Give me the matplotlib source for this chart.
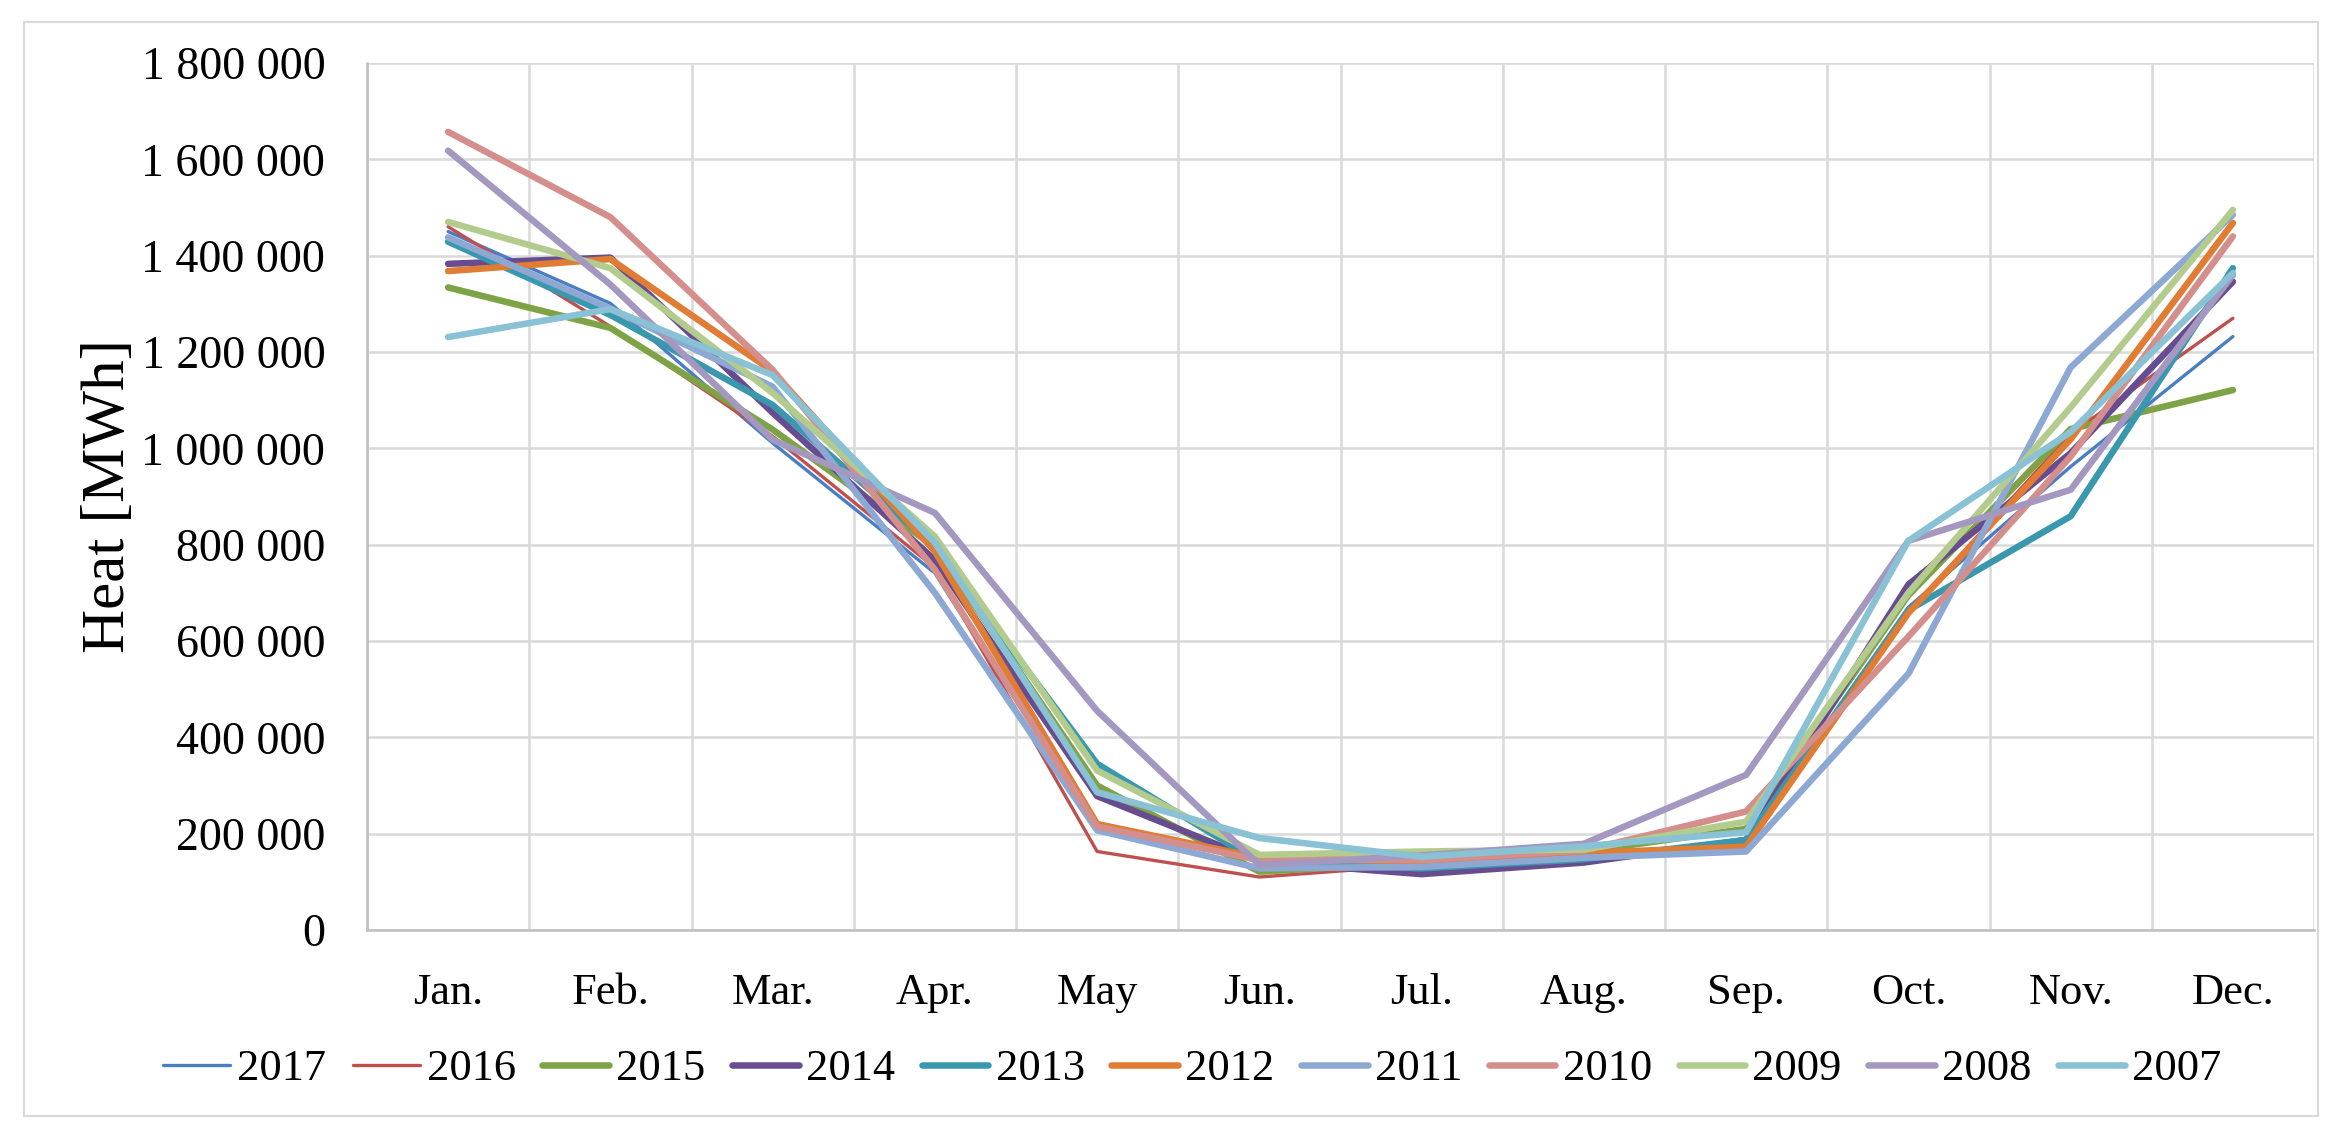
import matplotlib.pyplot as plt
import matplotlib.patches as patches
from matplotlib.ticker import FuncFormatter, MultipleLocator
import numpy as np

plt.rcParams['font.family'] = ['Liberation Serif', 'DejaVu Serif']

# ---- data ----
months = ['Jan.', 'Feb.', 'Mar.', 'Apr.', 'May', 'Jun.', 'Jul.', 'Aug.', 'Sep.', 'Oct.', 'Nov.', 'Dec.']
years = ['2017', '2016', '2015', '2014', '2013', '2012', '2011', '2010', '2009', '2008', '2007']

v2017 = [1450000, 1301000, 1011000, 741000, 210000, 145000, 140000, 150000, 178000, 670000, 962000, 1232000]
v2016 = [1460000, 1253000, 1025000, 752000, 163000, 110000, 135000, 150000, 180000, 660000, 1030000, 1270000]
v2015 = [1334000, 1250000, 1039000, 795000, 300000, 121000, 140000, 163000, 210000, 695000, 1040000, 1121000]
v2014 = [1383000, 1396000, 1074000, 768000, 278000, 142000, 116000, 140000, 187000, 717000, 990000, 1346000]
v2013 = [1429000, 1277000, 1090000, 796000, 345000, 140000, 128000, 147000, 187000, 664000, 859000, 1374000]
v2012 = [1368000, 1393000, 1160000, 786000, 220000, 150000, 143000, 160000, 173000, 658000, 1019000, 1468000]
v2011 = [1438000, 1290000, 1128000, 700000, 207000, 128000, 131000, 150000, 163000, 532000, 1168000, 1485000]
v2010 = [1657000, 1480000, 1163000, 748000, 215000, 145000, 145000, 165000, 246000, 609000, 983000, 1440000]
v2009 = [1470000, 1374000, 1115000, 817000, 331000, 156000, 163000, 167000, 225000, 700000, 1085000, 1495000]
v2008 = [1618000, 1340000, 1018000, 866000, 455000, 135000, 155000, 179000, 322000, 808000, 914000, 1360000]
v2007 = [1231000, 1289000, 1152000, 804000, 286000, 191000, 152000, 174000, 203000, 808000, 1034000, 1364000]

values = [v2017, v2016, v2015, v2014, v2013, v2012, v2011, v2010, v2009, v2008, v2007]
colors = ['#4A7EC4', '#C0504D', '#7EA346', '#684C90', '#3A98AE', '#E07C33',
          '#8DA9D3', '#D48E8C', '#B3CC8E', '#A598C0', '#89C1D5']
widths = [2.4, 2.4, 4.7, 4.7, 4.7, 4.7, 4.7, 4.7, 4.7, 4.7, 4.7]

# ---- figure ----
fig = plt.figure(figsize=(23.38, 11.34), dpi=100)
ax = fig.add_axes([367 / 2338, 1 - 930 / 1134, 1947 / 2338, 867 / 1134])

x = np.arange(len(months))
for lab, vals, col, lw in zip(years, values, colors, widths):
    ax.plot(x, vals, color=col, linewidth=lw, label=lab,
            solid_capstyle='round', solid_joinstyle='round')

ax.set_xlim(-0.5, 11.5)
ax.set_ylim(0, 1800000)
ax.set_xticks(x)
ax.set_xticklabels(months)
ax.xaxis.set_minor_locator(MultipleLocator(1, offset=0.5))
ax.yaxis.set_major_locator(MultipleLocator(200000))
ax.yaxis.set_major_formatter(FuncFormatter(lambda v, p: f"{int(v):,}".replace(",", " ")))

ax.grid(True, which='major', axis='y', color='#D9D9D9', linewidth=1.8)
ax.grid(True, which='minor', axis='x', color='#D9D9D9', linewidth=1.8)
ax.set_axisbelow(True)
ax.tick_params(axis='both', which='both', length=0, colors='black')
ax.tick_params(axis='y', labelsize=33, pad=30)
ax.tick_params(axis='x', labelsize=32, pad=31)

for s in ['top', 'right']:
    ax.spines[s].set_visible(False)
ax.spines['left'].set_color('#BFBFBF')
ax.spines['bottom'].set_color('#BFBFBF')
ax.spines['left'].set_linewidth(1.8)
ax.spines['bottom'].set_linewidth(1.8)

ax.set_ylabel('Heat [MWh]', fontsize=44)
ax.yaxis.set_label_coords(-0.118, 0.5)

leg = fig.legend(loc='center', bbox_to_anchor=(0.51, 0.057), ncol=11, frameon=False,
                 fontsize=32, handlelength=1.5, handletextpad=0.16, columnspacing=0.6)

# outer chart border
fig.patches.append(patches.Rectangle((24 / 2338, 1 - 1116 / 1134), 2294 / 2338, 1094 / 1134,
                                     transform=fig.transFigure, fill=False,
                                     edgecolor='#D9D9D9', linewidth=1.5))

fig.savefig('out.png', dpi=100)
